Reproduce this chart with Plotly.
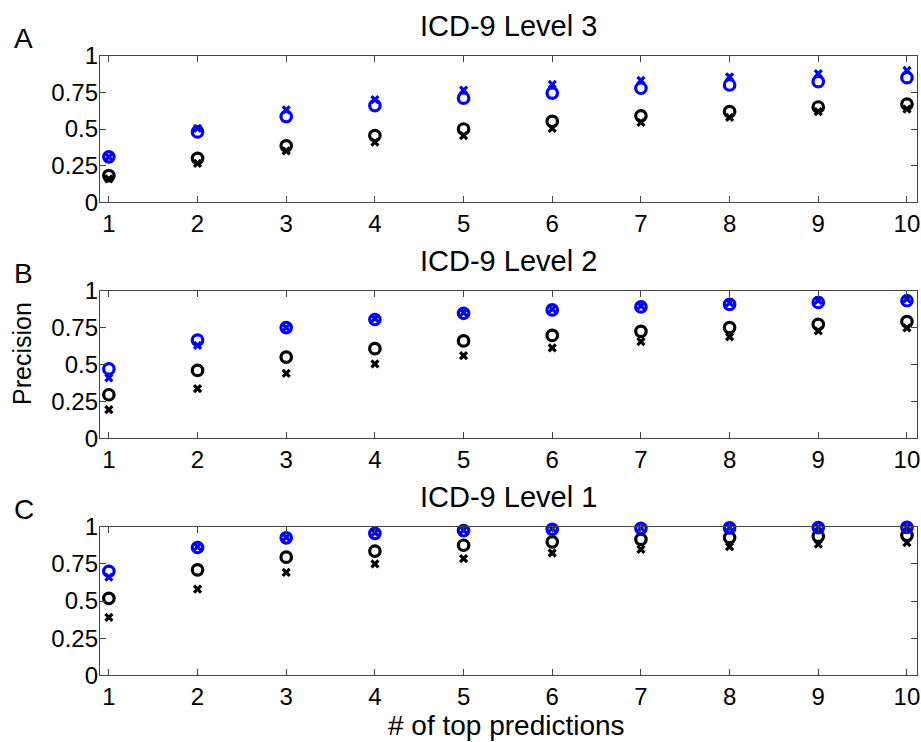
import plotly.graph_objects as go

x_vals = [1, 2, 3, 4, 5, 6, 7, 8, 9, 10]
titles = ["ICD-9 Level 3", "ICD-9 Level 2", "ICD-9 Level 1"]
panel_letters = ["A", "B", "C"]
y_tick_vals = [0, 0.25, 0.5, 0.75, 1]
y_tick_text = ["0", "0.25", "0.5", "0.75", "1"]

# Panel A (Level 3)
a_blue_o = [0.31, 0.48, 0.585, 0.66, 0.71, 0.745, 0.778, 0.80, 0.823, 0.85]
a_blue_x = [0.31, 0.505, 0.63, 0.70, 0.765, 0.805, 0.832, 0.855, 0.878, 0.90]
a_black_o = [0.182, 0.30, 0.385, 0.455, 0.50, 0.552, 0.59, 0.618, 0.65, 0.67]
a_black_x = [0.16, 0.265, 0.35, 0.41, 0.455, 0.505, 0.545, 0.58, 0.618, 0.636]

# Panel B (Level 2)
b_blue_o = [0.47, 0.665, 0.75, 0.805, 0.847, 0.87, 0.89, 0.907, 0.92, 0.932]
b_blue_x = [0.41, 0.63, 0.75, 0.81, 0.852, 0.875, 0.898, 0.918, 0.935, 0.945]
b_black_o = [0.295, 0.46, 0.55, 0.607, 0.66, 0.697, 0.725, 0.75, 0.772, 0.79]
b_black_x = [0.195, 0.336, 0.44, 0.505, 0.56, 0.613, 0.655, 0.688, 0.727, 0.748]

# Panel C (Level 1)
c_blue_o = [0.70, 0.86, 0.925, 0.955, 0.973, 0.982, 0.989, 0.992, 0.994, 0.995]
c_blue_x = [0.66, 0.865, 0.928, 0.96, 0.977, 0.988, 0.992, 0.995, 0.997, 0.998]
c_black_o = [0.518, 0.71, 0.795, 0.836, 0.875, 0.898, 0.915, 0.927, 0.936, 0.942]
c_black_x = [0.39, 0.58, 0.693, 0.75, 0.785, 0.823, 0.848, 0.866, 0.882, 0.893]

panels = [
    (a_black_x, a_black_o, a_blue_x, a_blue_o),
    (b_black_x, b_black_o, b_blue_x, b_blue_o),
    (c_black_x, c_black_o, c_blue_x, c_blue_o),
]

W, H = 921, 742
FONT = "Liberation Sans, Arial, sans-serif"
BLUE = "#0000ff"
BLACK = "#000000"
AXC = "#444444"

# pixel boxes of the three axes (top, bottom)
boxes = [(55.7, 202.3), (290.7, 438.3), (526.7, 675.3)]
x_left, x_right = 100, 916.7

fig = go.Figure()
for i, (bx, bo, ux, uo) in enumerate(panels):
    suf = "" if i == 0 else str(i + 1)
    xa, ya = "x" + suf, "y" + suf
    for ys, col, sym, size, lw in [
        (bx, BLACK, "x-thin", 7, 3.2),
        (bo, BLACK, "circle-open", 10.5, 3.2),
        (ux, BLUE, "x-thin", 7, 3.2),
        (uo, BLUE, "circle-open", 10.5, 3.2),
    ]:
        fig.add_trace(go.Scatter(
            x=x_vals, y=ys, mode="markers", xaxis=xa, yaxis=ya,
            cliponaxis=False, showlegend=False,
            marker=dict(symbol=sym, size=size, color=col,
                        line=dict(width=lw, color=col)),
        ))
    top, bot = boxes[i]
    common = dict(showline=True, linecolor=AXC, linewidth=1.3, mirror="ticks",
                  ticks="inside", ticklen=6, tickwidth=1.3, tickcolor=AXC,
                  showgrid=False, zeroline=False, automargin=False,
                  tickfont=dict(family=FONT, size=24, color="black"))
    fig.layout["xaxis" + suf] = dict(
        domain=[x_left / W, x_right / W], range=[0.9, 10.11],
        tickvals=x_vals, anchor=ya, **common)
    fig.layout["yaxis" + suf] = dict(
        domain=[1 - bot / H, 1 - top / H], range=[0, 1],
        tickvals=y_tick_vals, ticktext=y_tick_text, anchor=xa,
        ticklabelstandoff=-4, **common)
    fig.add_annotation(text=titles[i], xref="paper", yref="paper",
                       x=508 / W, y=1 - (top - 30) / H, showarrow=False,
                       font=dict(family=FONT, size=29, color="black"),
                       xanchor="center", yanchor="middle")
    fig.add_annotation(text=panel_letters[i], xref="paper", yref="paper",
                       x=12 / W, y=1 - (top - 17) / H, showarrow=False,
                       font=dict(family=FONT, size=28, color="black"),
                       xanchor="left", yanchor="middle")

fig.add_annotation(text="Precision", xref="paper", yref="paper",
                   x=22 / W, y=1 - 354 / H, showarrow=False, textangle=-90,
                   font=dict(family=FONT, size=25, color="black"),
                   xanchor="center", yanchor="middle")
fig.add_annotation(text="# of top predictions", xref="paper", yref="paper",
                   x=506 / W, y=1 - 725 / H, showarrow=False,
                   font=dict(family=FONT, size=28, color="black"),
                   xanchor="center", yanchor="middle")

fig.update_layout(width=W, height=H,
                  margin=dict(l=0, r=0, t=0, b=0, pad=0, autoexpand=False),
                  paper_bgcolor="white", plot_bgcolor="white")
fig.write_html("out.html", config={"displayModeBar": False},
               post_script="document.body.style.margin='0px';")
